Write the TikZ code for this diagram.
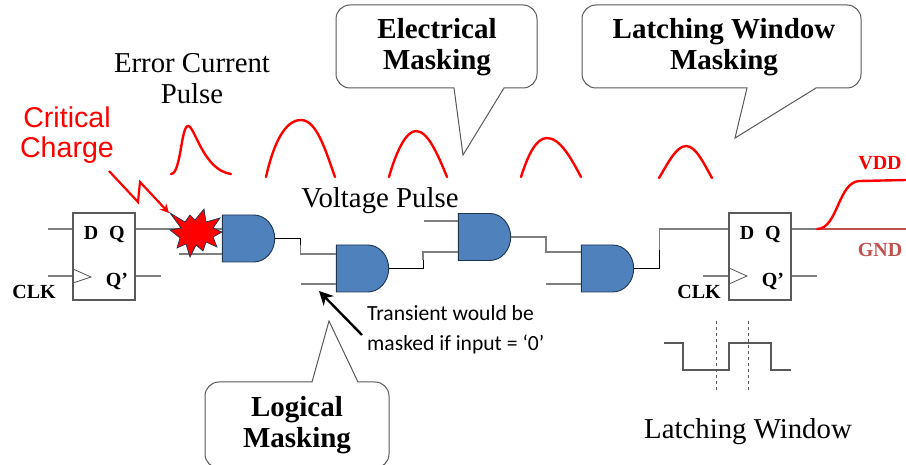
\documentclass[tikz,border=0pt]{standalone}
\usepackage{fontspec}
\setmainfont{Liberation Serif}
\setsansfont{Liberation Sans}
\newfontfamily\calibrifont{Carlito}
\usepackage{tikz}
\usetikzlibrary{calc}
\usetikzlibrary{positioning}
\usetikzlibrary{arrows.meta}
\usetikzlibrary{shapes.gates.logic.US}
\definecolor{gatefill}{HTML}{4F81BD}
\definecolor{gateline}{HTML}{1F3550}
\definecolor{wiregray}{HTML}{7F7F7F}
\definecolor{boxgray}{HTML}{595959}
\definecolor{gndred}{HTML}{C0504D}
\tikzstyle{andnode} = [and gate US, draw=gateline, fill=gatefill, logic gate inputs=nn, line width=0.9pt, minimum height=47pt, xscale=0.89, anchor=west, inner sep=0pt]
\tikzstyle{ffnode} = [draw=boxgray, rectangle, line width=1.1pt, minimum width=62pt, minimum height=87pt, inner sep=0pt]
\tikzstyle{wire} = [wiregray, line width=1.2pt]
\tikzstyle{blackwire} = [black, line width=0.9pt]
\tikzstyle{pulse} = [red, line width=2.4pt, line cap=round]
\tikzstyle{bubble} = [boxgray, line width=1pt]
\tikzstyle{pinlabel} = [font=\fontsize{20}{22}\selectfont\bfseries, inner sep=0pt]
\tikzstyle{bigbold} = [font=\fontsize{29}{31}\selectfont\bfseries, align=center, inner sep=0pt]
\tikzstyle{bigplain} = [font=\fontsize{28.8}{31}\selectfont, align=center, inner sep=0pt]

\begin{document}
\begin{tikzpicture}[x=1pt, y=-1pt]
  \useasboundingbox (0,0) rectangle (906,465);

  % flip flops
  \node[ffnode] (ffa) at (104,256.5) {};
  \node[ffnode] (ffb) at (760,256.5) {};
  \node[pinlabel] (ffaD) at (91,233) {D};
  \node[pinlabel] (ffaQ) at (117,235) {Q};
  \node[pinlabel] (ffaN) at (117,281) {Q’};
  \node[pinlabel] (ffaC) at (34,292) {CLK};
  \node[pinlabel] (ffbD) at (747,233) {D};
  \node[pinlabel] (ffbQ) at (773,235) {Q};
  \node[pinlabel] (ffbN) at (773,281) {Q’};
  \node[pinlabel] (ffbC) at (699,292) {CLK};
  \draw[boxgray, line width=0.8pt] (73,269) -- (91,277) -- (73,283);
  \draw[boxgray, line width=0.8pt] (729,268) -- (747,276) -- (729,284);

  % gates
  \node[andnode] (ga) at (222,238.5) {};
  \node[andnode] (gb) at (336,268.5) {};
  \node[andnode] (gc) at (458,237) {};
  \node[andnode] (gd) at (581,268.5) {};

  % gate inputs
  \coordinate (gaA) at ($(ga.west)+(0,-9.5)$);
  \coordinate (gaB) at ($(ga.west)+(0,15.5)$);
  \coordinate (gbA) at ($(gb.west)+(0,-14.5)$);
  \coordinate (gbB) at ($(gb.west)+(0,15.5)$);
  \coordinate (gcA) at ($(gc.west)+(0,-16)$);
  \coordinate (gcB) at ($(gc.west)+(0,15)$);
  \coordinate (gdA) at ($(gd.west)+(0,-16.5)$);
  \coordinate (gdB) at ($(gd.west)+(0,15.5)$);

  % free wire ends
  \coordinate (ffaDin) at (48,229);
  \coordinate (ffaCin) at (48,276);
  \coordinate (ffaNout) at (161,276);
  \coordinate (ffbCin) at (703,276);
  \coordinate (ffbNout) at (817,276);
  \coordinate (ffbQout) at (817,229);
  \coordinate (gndend) at (906,229);
  \coordinate (gaBin) at (179,254);
  \coordinate (gbBin) at (301,284);
  \coordinate (gcAin) at (424,221);
  \coordinate (gdBin) at (546,284);

  \draw[wire] (ffaDin) -- (ffaDin -| ffa.west);
  \draw[wire] (ffaCin) -- (ffaCin -| ffa.west);
  \draw[wire] (ffaNout) -- (ffaNout -| ffa.east);
  \draw[wire] (ffbCin) -- (ffbCin -| ffb.west);
  \draw[wire] (ffbNout) -- (ffbNout -| ffb.east);
  \draw[wire] (ffbQout) -- (ffbQout -| ffb.east);
  \draw[gndred, line width=1.4pt] (ffbQout) -- (gndend);

  \draw[wire] (ffaDin -| ffa.east) -- (gaA);
  \draw[wire] (gaBin) -- (gaB);
  \draw[wire] (gbBin) -- (gbB);
  \draw[wire] (gcAin) -- (gcA);
  \draw[wire] (gdBin) -- (gdB);

  \draw[blackwire] (ga.output) -| (300.5,245);
  \draw[wire] (300.5,245) |- (gbA);
  \draw[blackwire] (gb.output) -| (423,260);
  \draw[wire] (423,260) |- (gcB);
  \draw[wire] (gc.output) -| (546,245);
  \draw[wire] (546,245) |- (gdA);
  \draw[blackwire] (gd.output) -| (659.5,250);
  \draw[wire] (659.5,250) |- (ffb.west |- ffbQout);

  % burst and bolt
  \draw[gateline, fill=red, line width=0.7pt] (170,213) -- (185,222) -- (190,215) -- (195,220) -- (204,209) -- (206,222) -- (220,218) -- (213,228) -- (222,232) -- (213,237) -- (217,247) -- (206,242) -- (203,251) -- (196,245) -- (190,257) -- (186,244) -- (177,248) -- (180,238) -- (170,230) -- (181,228) -- cycle;
  \coordinate (boltA) at (109,171);
  \coordinate (boltB) at (138,202);
  \coordinate (boltC) at (140,182);
  \coordinate (boltD) at (169,213);
  \draw[red, line width=2.2pt, -{Stealth[length=9pt, width=9pt]}] (boltA) -- (boltB) -- (boltC) -- (boltD);

  % pulses
  \draw[pulse] (171,174) .. controls (181,174) and (181,126) .. (188,126) .. controls (195,126) and (203,170) .. (231,174);
  \draw[pulse] (266,177) .. controls (273,146) and (284,120) .. (301,120) .. controls (317,120) and (326,152) .. (335,177);
  \draw[pulse] (389,177) .. controls (396,152) and (406,131) .. (416,131) .. controls (428,131) and (438,155) .. (447,177);
  \draw[pulse] (521,177) .. controls (528,155) and (536,138) .. (547,138) .. controls (560,138) and (571,158) .. (581,177);
  \draw[pulse] (659,178) .. controls (667,165) and (676,146) .. (686,146) .. controls (696,146) and (704,164) .. (712,178);
  \draw[pulse] (817,229) .. controls (838,229) and (838,181) .. (860,181) -- (906,180);

  % callouts
  \draw[bubble, fill=white] (454,88) [rounded corners=14pt] -- (336,88) -- (336,5) -- (537,5) -- (537,88) [sharp corners] -- (504,88) -- (463,155) -- cycle;
  \draw[bubble, fill=white] (747,88) [rounded corners=14pt] -- (582,88) -- (582,5) -- (861,5) -- (861,88) [sharp corners] -- (816,88) -- (735,138) -- cycle;
  \draw[bubble, fill=white] (312,382) [rounded corners=14pt] -- (205,382) -- (205,468) -- (389,468) -- (389,382) [sharp corners] -- (358,382) -- (329,321) -- cycle;
  \node[bigbold] (elecbox) at (437,47) {Electrical\\Masking};
  \node[bigbold] (latchbox) at (724,47) {Latching Window\\Masking};
  \node[bigbold] (logicbox) at (297,425) {Logical\\Masking};

  % texts
  \node[bigplain] (errtxt) at (192,79) {Error Current\\Pulse};
  \node[bigplain] (volttxt) at (380,201) {Voltage Pulse};
  \node[bigplain] (windowtxt) at (748,432) {Latching Window};
  \node[red, font=\fontsize{28.6}{30.5}\selectfont\sffamily, align=center, inner sep=0pt] (crittxt) at (67,135) {Critical\\Charge};
  \node[red, pinlabel] (vddtxt) at (880,163) {VDD};
  \node[gndred, pinlabel] (gndtxt) at (880,250) {GND};
  \node[font=\fontsize{21.6}{30}\selectfont\calibrifont, align=left, inner sep=0pt, anchor=west] (transtxt) at (367,330) {Transient would be\\masked if input = ‘0’};

  % masked input arrow
  \coordinate (arrowfrom) at (362,335);
  \coordinate (arrowto) at (319,291);
  \draw[black, line width=2.4pt, -{Stealth[length=14pt, width=14pt]}] (arrowfrom) -- (arrowto);

  % latching window waveform
  \coordinate (waveA) at (664,343);
  \coordinate (waveB) at (791,370);
  \draw[boxgray, line width=1.1pt] (waveA) -- (683,343) -- (683,370) -- (729,370) -- (729,343) -- (771,343) -- (771,370) -- (waveB);
  \draw[boxgray, line width=1pt, dashed] (716,321) -- (716,391);
  \draw[boxgray, line width=1pt, dashed] (748,321) -- (748,391);
\end{tikzpicture}
\end{document}
